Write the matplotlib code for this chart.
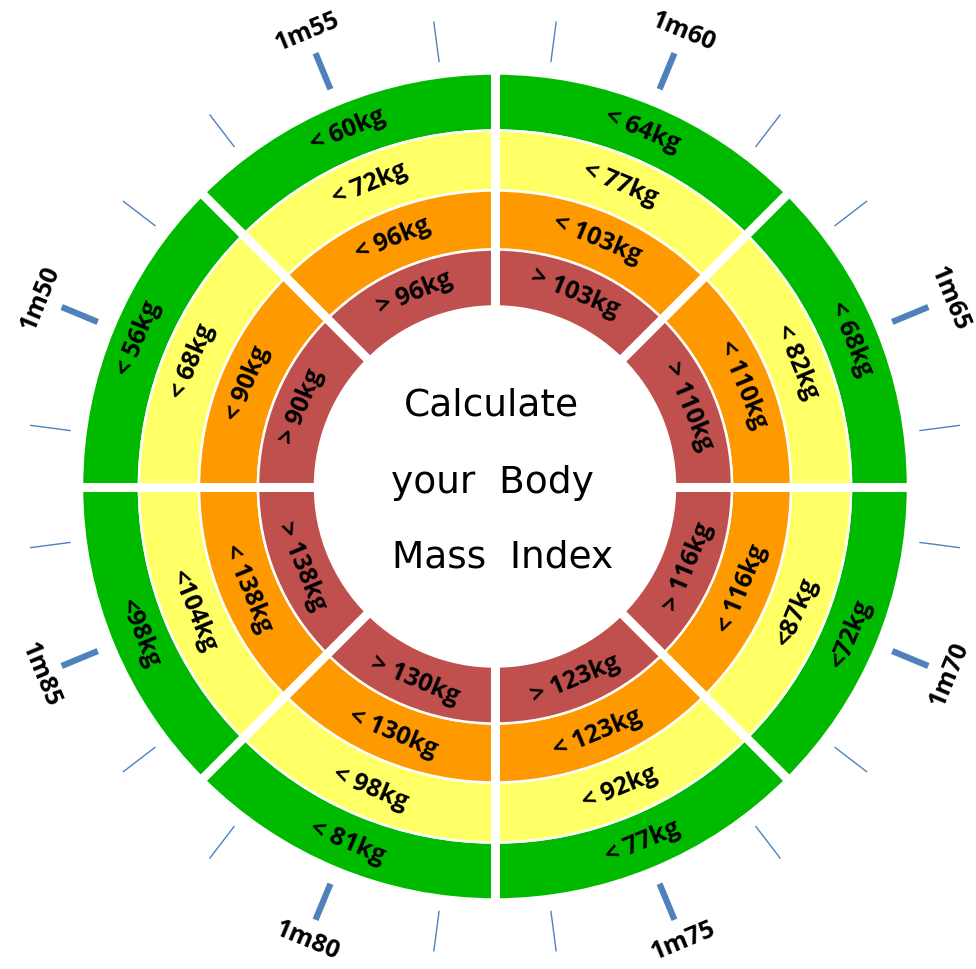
import numpy as np
import matplotlib
matplotlib.use("Agg")
from matplotlib import pyplot as plt
from matplotlib.patches import Wedge

# data, heights go clockwise starting at upper left
heights = ['1m50', '1m55', '1m60', '1m65', '1m70', '1m75', '1m80', '1m85']
green_lbl = ['< 56kg', '< 60kg', '< 64kg', '< 68kg', '<72kg', '< 77kg', '< 81kg', '<98kg']
yellow_lbl = ['< 68kg', '< 72kg', '< 77kg', '< 82kg', '<87kg', '< 92kg', '< 98kg', '<104kg']
orange_lbl = ['< 90kg', '< 96kg', '< 103kg', '< 110kg', '< 116kg', '< 123kg', '< 130kg', '< 138kg']
red_lbl = ['> 90kg', '> 96kg', '> 103kg', '> 110kg', '> 116kg', '> 123kg', '> 130kg', '> 138kg']

ring_labels = [green_lbl, yellow_lbl, orange_lbl, red_lbl]
ring_colors = ['#00BA00', '#FFFF66', '#FF9900', '#C0504D']
ring_outer = [413, 356, 296, 237]
ring_inner = [356, 296, 237, 180]

W, H = 976, 969
cx, cy = 495, H - 486.5

fig = plt.figure(figsize=(W / 100, H / 100), dpi=100)
ax = fig.add_axes([0, 0, 1, 1])
ax.set_xlim(0, W)
ax.set_ylim(0, H)
ax.axis('off')

lab_font = dict(family=['Open Sans', 'DejaVu Sans'], weight='bold', color='black')

for i, h in enumerate(heights):
    a = 157.5 - 45 * i
    t1, t2 = a - 22.5, a + 22.5
    rot = a - 90 if np.sin(np.radians(a)) >= 0 else a + 90
    for k in range(4):
        ax.add_patch(Wedge((cx, cy), ring_outer[k], t1, t2,
                           width=ring_outer[k] - ring_inner[k],
                           facecolor=ring_colors[k], edgecolor='white', lw=1.8))
        rm = (ring_outer[k] + ring_inner[k]) / 2 + 1
        ax.text(cx + rm * np.cos(np.radians(a)), cy + rm * np.sin(np.radians(a)),
                ring_labels[k][i], rotation=rot, ha='center', va='center',
                rotation_mode='anchor', fontsize=18, **lab_font)
    # height label
    rl = 492
    ax.text(cx + rl * np.cos(np.radians(a)), cy + rl * np.sin(np.radians(a)),
            h, rotation=rot, ha='center', va='center', rotation_mode='anchor',
            fontsize=18, **lab_font)

# white cuts between sectors
for b in [0, 45, 90, 135]:
    dx, dy = 414 * np.cos(np.radians(b)), 414 * np.sin(np.radians(b))
    ax.plot([cx - dx, cx + dx], [cy - dy, cy + dy], color='white', lw=6.5,
            solid_capstyle='butt')

# ticks around the dial
for k in range(24):
    a = 7.5 + 15 * k
    thick = abs(((a - 22.5) % 45)) < 1e-6
    r0, r1 = (430, 469) if thick else (428, 469)
    ca, sa = np.cos(np.radians(a)), np.sin(np.radians(a))
    ax.plot([cx + r0 * ca, cx + r1 * ca], [cy + r0 * sa, cy + r1 * sa],
            color='#4F81BD', lw=4.5 if thick else 1.0, solid_capstyle='butt')

# title in the middle
center_txt = ['Calculate', 'your  Body', 'Mass  Index']
txt_y = [405, 483, 558]
txt_x = [491, 492, 503]
for s, x, y in zip(center_txt, txt_x, txt_y):
    ax.text(x, H - y, s, ha='center', va='center', fontsize=27,
            family=['DejaVu Sans'], color='black')

fig.savefig('out.png', dpi=100)
